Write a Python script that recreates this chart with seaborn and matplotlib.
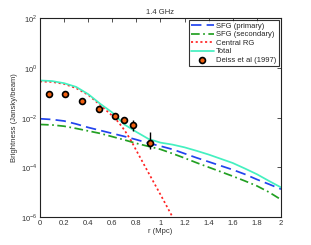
import numpy as np
import pandas as pd
import matplotlib
matplotlib.use('Agg')
import matplotlib.pyplot as plt
import seaborn as sns
from matplotlib.ticker import NullLocator, FixedLocator

# Radio (log10 del brillo)
r = [0.0, 0.1, 0.2, 0.3, 0.4, 0.5, 0.6, 0.7, 0.8, 0.9, 1.0,
     1.1, 1.2, 1.3, 1.4, 1.5, 1.6, 1.7, 1.8, 1.9, 2.0]
log_sfg_primary = [-2.05, -2.08, -2.14, -2.26, -2.40, -2.52, -2.64, -2.76, -2.89, -3.03, -3.15,
                   -3.28, -3.45, -3.62, -3.78, -3.94, -4.10, -4.28, -4.49, -4.68, -4.88]
log_sfg_secondary = [-2.28, -2.30, -2.35, -2.44, -2.54, -2.64, -2.77, -2.90, -3.04, -3.16, -3.28,
                     -3.45, -3.63, -3.82, -4.00, -4.18, -4.36, -4.55, -4.75, -5.00, -5.30]
log_total = [-0.51, -0.535, -0.62, -0.77, -1.06, -1.45, -1.80, -2.28, -2.58, -2.86, -3.01,
             -3.09, -3.20, -3.34, -3.49, -3.66, -3.83, -4.05, -4.28, -4.55, -4.81]

r_rg = [0.0, 0.1, 0.2, 0.3, 0.4, 0.5, 0.6, 0.65, 0.7, 0.75, 0.8, 0.9, 1.0, 1.1, 1.15]
log_rg = [-0.55, -0.57, -0.65, -0.82, -1.09, -1.50, -1.93, -2.18, -2.50, -2.88, -3.33, -4.22, -5.10, -6.00, -6.45]

# Deiss et al (1997)
r_deiss = [0.072, 0.21, 0.346, 0.487, 0.625, 0.694, 0.77, 0.91]
s_deiss = [0.091, 0.085, 0.048, 0.021, 0.0112, 0.0083, 0.0048, 0.00098]
err_low = [0.008, 0.008, 0.005, 0.002, 0.001, 0.001, 0.002, 0.00042]
err_up = [0.010, 0.010, 0.006, 0.003, 0.0015, 0.0015, 0.003, 0.0016]

sns.set_style('white')
plt.rcParams['font.family'] = ['Liberation Sans', 'DejaVu Sans']
plt.rcParams['mathtext.fontset'] = 'custom'
plt.rcParams['mathtext.rm'] = 'Liberation Sans'

fig = plt.figure(figsize=(3.11, 2.45), dpi=100)
ax = fig.add_axes([0.1286, 0.1143, 0.7749, 0.8122])

lw = 1.25
sns.lineplot(x=r, y=10 ** np.array(log_sfg_primary), ax=ax, color='#2244ee', lw=lw,
             label='SFG (primary)').lines[-1].set_dashes([6, 3])
sns.lineplot(x=r, y=10 ** np.array(log_sfg_secondary), ax=ax, color='#22a022', lw=lw,
             label='SFG (secondary)').lines[-1].set_dashes([5, 2, 1, 2])
sns.lineplot(x=r_rg, y=10 ** np.array(log_rg), ax=ax, color='#ff2222', lw=lw,
             label='Central RG').lines[-1].set_dashes([1.2, 1.5])
sns.lineplot(x=r, y=10 ** np.array(log_total), ax=ax, color='#44f0c0', lw=lw,
             label='Total')

ax.errorbar(r_deiss, s_deiss, yerr=[err_low, err_up], fmt='none', ecolor='black',
            elinewidth=1.0, capsize=0, zorder=4)
sns.scatterplot(x=r_deiss, y=s_deiss, ax=ax, color='#f06010', edgecolor='black',
                linewidth=1.2, s=18, zorder=5, label='Deiss et al (1997)')

ax.set_yscale('log')
ax.set_xlim(0, 2)
ax.set_ylim(1e-6, 1e2)
ax.yaxis.set_major_locator(FixedLocator([1e-6, 1e-4, 1e-2, 1e0, 1e2]))
ax.yaxis.set_minor_locator(NullLocator())
ax.set_yticklabels([r'$10^{-6}$', r'$10^{-4}$', r'$10^{-2}$', r'$10^{0}$', r'$10^{2}$'])
ax.set_xticks([0, 0.2, 0.4, 0.6, 0.8, 1, 1.2, 1.4, 1.6, 1.8, 2])
ax.set_xticklabels(['0', '0.2', '0.4', '0.6', '0.8', '1', '1.2', '1.4', '1.6', '1.8', '2'])

ax.tick_params(direction='in', length=3, width=0.6, labelsize=5.5, colors='#333333',
               top=True, right=True, pad=2)
for sp in ax.spines.values():
    sp.set_color('#222222')
    sp.set_linewidth(0.8)

ax.set_title('1.4 GHz', fontsize=5.5, color='#333333', pad=3)
ax.set_xlabel('r (Mpc)', fontsize=5.5, color='#333333', labelpad=1)
ax.set_ylabel('Brightness (Jansky/beam)', fontsize=5.5, color='#333333', labelpad=2)

leg = ax.legend(loc='upper right', fontsize=5.5, frameon=True, fancybox=False,
                borderpad=0.3, labelspacing=0.15, handlelength=3.0, handletextpad=0.3,
                borderaxespad=0.3)
leg.get_frame().set_edgecolor('black')
leg.get_frame().set_linewidth(0.8)

fig.savefig('out.png', dpi=100)
